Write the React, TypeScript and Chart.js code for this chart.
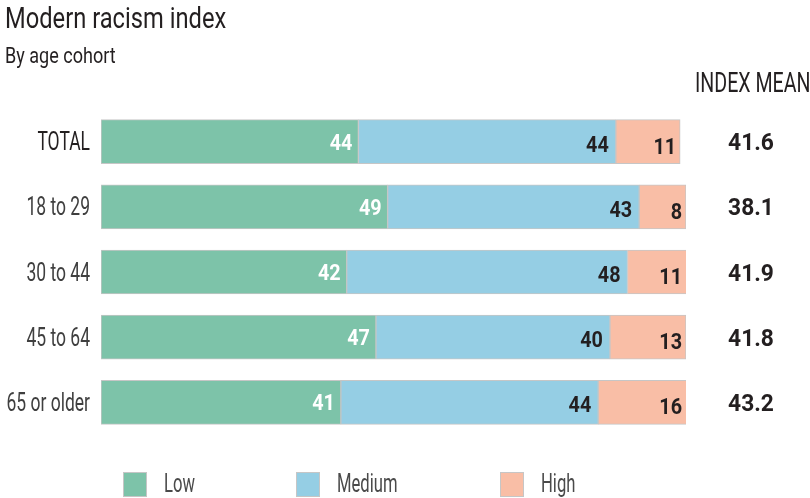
import React, { useEffect, useRef } from "react";
import { Chart, registerables } from "chart.js";

Chart.register(...registerables);

const categories = ["TOTAL", "18 to 29", "30 to 44", "45 to 64", "65 or older"];
const seriesNames = ["Low", "Medium", "High"];
const lowValues = [44, 49, 42, 47, 41];
const mediumValues = [44, 43, 48, 40, 44];
const highValues = [11, 8, 11, 13, 16];
const indexMean = [41.6, 38.1, 41.9, 41.8, 43.2];
const seriesColors = ["#7dc3a9", "#95cee4", "#f9bea6"];

const FONT = '"Roboto", "Noto Sans", sans-serif';

function drawText(
  ctx: CanvasRenderingContext2D,
  text: string,
  x: number,
  y: number,
  align: CanvasTextAlign,
  font: string,
  sx: number,
  color: string
) {
  ctx.save();
  ctx.translate(x, y);
  ctx.scale(sx, 1);
  ctx.font = font;
  ctx.textAlign = align;
  ctx.textBaseline = "alphabetic";
  ctx.fillStyle = color;
  ctx.fillText(text, 0, 0);
  ctx.restore();
}

const textPlugin = {
  id: "textPlugin",
  afterDatasetsDraw(chart: any) {
    const ctx = chart.ctx as CanvasRenderingContext2D;
    const yScale = chart.scales.y;
    drawText(ctx, "Modern racism index", 5, 28, "left", `30px ${FONT}`, 0.79, "#231f20");
    drawText(ctx, "By age cohort", 5, 63, "left", `22px ${FONT}`, 0.82, "#231f20");
    drawText(ctx, "INDEX MEAN", 695, 92, "left", `28px ${FONT}`, 0.7, "#231f20");

    categories.forEach((c, i) => {
      const y = yScale.getPixelForValue(i);
      drawText(ctx, c, 90, y + 8.5, "right", `25px ${FONT}`, 0.7, i === 0 ? "#231f20" : "#3f3f3f");
      drawText(ctx, indexMean[i].toFixed(1), 751, y + 8.5, "center", `bold 23.5px ${FONT}`, 0.97, "#231f20");
    });

    const pads = [6, 7, 4];
    const offs = [8, 10, 12];
    const colors = ["#ffffff", "#231f20", "#231f20"];
    chart.data.datasets.forEach((ds: any, di: number) => {
      const meta = chart.getDatasetMeta(di);
      meta.data.forEach((bar: any, i: number) => {
        const right = Math.min(Math.max(bar.x, bar.base), chart.chartArea.right);
        drawText(ctx, String(ds.data[i]), right - pads[di], bar.y + offs[di], "right", `bold 22.5px ${FONT}`, 0.88, colors[di]);
      });
    });

    const legendX = [123, 296, 500];
    seriesNames.forEach((n, i) => {
      ctx.save();
      ctx.fillStyle = seriesColors[i];
      ctx.fillRect(legendX[i], 472, 24, 25);
      ctx.strokeStyle = "#c6c6c6";
      ctx.lineWidth = 1;
      ctx.strokeRect(legendX[i] + 0.5, 472.5, 23, 24);
      ctx.restore();
      drawText(ctx, n, legendX[i] + 41, 492, "left", `26px ${FONT}`, 0.64, "#4a4a4a");
    });
  },
};

export default function App() {
  const ref = useRef<HTMLCanvasElement | null>(null);
  useEffect(() => {
    document.body.style.margin = "0";
    const vals = [lowValues, mediumValues, highValues];
    const chart = new Chart(ref.current as HTMLCanvasElement, {
      type: "bar",
      data: {
        labels: categories,
        datasets: seriesNames.map((n, i) => ({
          label: n,
          data: vals[i],
          backgroundColor: seriesColors[i],
          borderColor: "#c6c6c6",
          borderWidth: 1,
          borderSkipped: false,
          barThickness: 44,
        })),
      },
      options: {
        indexAxis: "y",
        animation: false,
        responsive: false,
        layout: { padding: { left: 101, right: 124, top: 109, bottom: 63 } },
        scales: {
          x: { stacked: true, min: 0, max: 100, display: false },
          y: { stacked: true, display: false },
        },
        plugins: {
          legend: { display: false },
          tooltip: { enabled: false },
          title: { display: false },
        },
      },
      plugins: [textPlugin],
    });
    return () => chart.destroy();
  }, []);
  return (
    <div style={{ width: 810, height: 498, background: "#fff" }}>
      <canvas ref={ref} width={810} height={498} />
    </div>
  );
}
